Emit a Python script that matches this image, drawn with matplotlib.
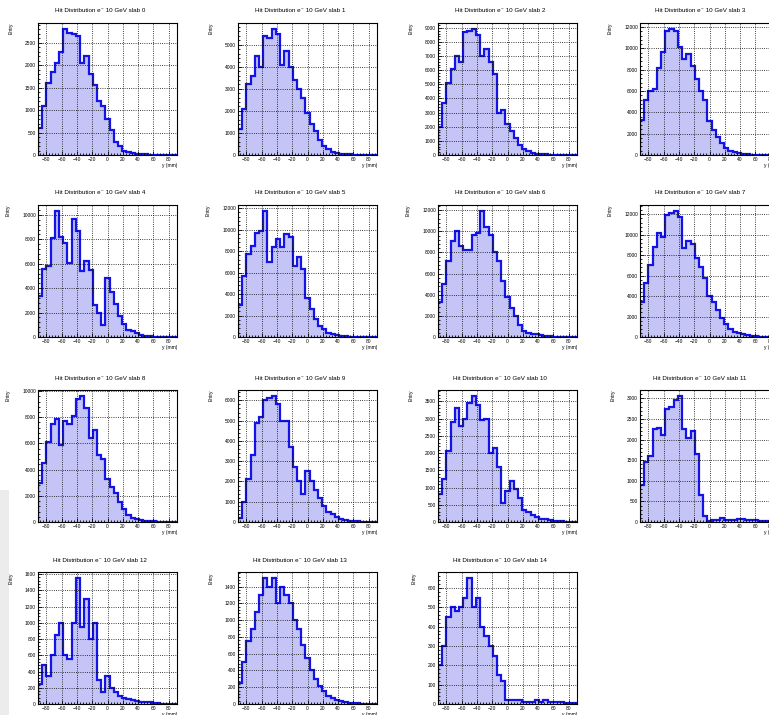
import numpy as np
import matplotlib.pyplot as plt
from matplotlib.patches import Rectangle
from matplotlib.ticker import MultipleLocator, AutoMinorLocator

plt.rcParams['font.family'] = ['Liberation Sans', 'DejaVu Sans']

# 33 bins of 5.5 mm (pad pitch), centred on the pad grid
edges = -90.75 + 5.5 * np.arange(34)

slab0 = [600, 1100, 1600, 1850, 2050, 2300, 2800, 2720, 2700, 2650, 2050, 2200, 1800,
         1550, 1200, 1100, 800, 550, 300, 200, 100, 60, 40, 30, 20, 15, 10, 8, 6, 5, 4, 3, 3]
slab1 = [1200, 2100, 3200, 3600, 4500, 4000, 5400, 5300, 5700, 5500, 4100, 4700, 4000,
         3400, 3000, 2600, 1900, 1400, 1100, 700, 400, 250, 150, 100, 60, 40, 30, 20, 15, 10, 8, 5, 5]
slab2 = [2000, 3700, 5100, 6100, 7000, 6600, 8700, 8800, 8900, 8500, 7000, 7500, 6600,
         5700, 3000, 3200, 2200, 1700, 1200, 700, 400, 250, 150, 100, 60, 40, 30, 20, 15, 10, 5, 5, 5]
slab3 = [3300, 5200, 6000, 6200, 8200, 9700, 11600, 11800, 11600, 10100, 9000, 9500, 8400,
         7100, 6000, 5200, 3200, 2300, 1700, 1100, 700, 400, 250, 150, 100, 60, 40, 30, 20, 15, 10, 5, 5]
slab4 = [3400, 5600, 5800, 8100, 10300, 8200, 7700, 6100, 9700, 8700, 5400, 6200, 5500,
         2600, 2000, 1000, 4800, 3700, 2700, 1700, 1100, 600, 500, 300, 200, 100, 60, 40, 30, 20, 15, 10, 5]
slab5 = [3000, 5700, 7700, 8500, 9700, 9900, 11700, 7000, 8400, 9100, 8400, 9600, 9300,
         6600, 7400, 6300, 3600, 2600, 1700, 1000, 700, 400, 300, 200, 100, 60, 40, 30, 20, 15, 10, 5, 5]
slab6 = [3300, 5000, 7200, 9100, 10000, 8600, 8200, 8200, 9700, 9800, 11900, 10400, 9700,
         8000, 7200, 5300, 3800, 2700, 2000, 1100, 600, 400, 300, 300, 200, 100, 60, 40, 30, 20, 15, 10, 5]
slab7 = [3400, 5300, 7000, 8800, 10200, 9800, 11900, 12100, 12300, 11700, 8700, 9400, 9100,
         7700, 6800, 5800, 4000, 3400, 2600, 1900, 1300, 800, 500, 400, 300, 200, 100, 60, 40, 30, 20, 10, 5]
slab8 = [3000, 4500, 6100, 7500, 7900, 5900, 7700, 7500, 8100, 9400, 9600, 8700, 6400,
         7000, 5100, 4800, 3300, 2700, 2200, 1500, 1000, 500, 300, 200, 150, 100, 60, 40, 30, 20, 15, 10, 5]
slab9 = [200, 1000, 2100, 3300, 4900, 5200, 6000, 6100, 6200, 5800, 5000, 5000, 3700,
         2700, 2000, 1400, 2500, 2000, 1600, 1200, 800, 500, 400, 250, 150, 100, 60, 40, 30, 20, 15, 10, 5]
slab10 = [800, 1250, 2050, 2900, 3300, 2800, 3000, 3450, 3650, 3400, 2950, 3000, 2000,
          2150, 1600, 550, 900, 1200, 950, 700, 350, 300, 200, 150, 100, 80, 50, 30, 20, 15, 10, 5, 5]
slab11 = [900, 1450, 1600, 2250, 2280, 2100, 2750, 2800, 2950, 3050, 2250, 2050, 2200,
          1650, 650, 150, 30, 50, 60, 100, 60, 60, 50, 80, 70, 60, 60, 40, 30, 20, 20, 10, 10]
slab12 = [250, 480, 350, 600, 850, 1000, 600, 550, 1000, 1550, 950, 1300, 800,
          1000, 300, 150, 350, 200, 150, 100, 80, 60, 50, 40, 30, 20, 20, 10, 10, 5, 5, 5, 5]
slab13 = [250, 500, 750, 900, 1100, 1300, 1500, 1400, 1500, 1200, 1400, 1300, 1200,
          1000, 900, 700, 550, 400, 300, 220, 150, 100, 70, 50, 30, 20, 15, 10, 10, 5, 5, 5, 5]
slab14 = [200, 300, 450, 500, 480, 500, 550, 650, 500, 550, 400, 350, 300,
          250, 150, 120, 20, 20, 20, 20, 10, 10, 10, 20, 10, 20, 10, 10, 10, 10, 5, 5, 5]

slabs = [slab0, slab1, slab2, slab3, slab4, slab5, slab6, slab7,
         slab8, slab9, slab10, slab11, slab12, slab13, slab14]
y_major = [500, 1000, 1000, 2000, 2000, 2000, 2000, 2000,
           2000, 1000, 500, 500, 200, 200, 100]

W, H = 769, 715
fig = plt.figure(figsize=(W / 100, H / 100), dpi=100)

# grey strip of the window behind the canvas, lower left
fig.patches.append(Rectangle((0, 0), 9 / W, 225 / H, transform=fig.transFigure,
                             facecolor='#ececec', edgecolor='none', zorder=-1))

col_x = [38, 238, 438, 640]
row_y = [23, 205, 390, 572]
pw, ph = 139, 132

fill_col = '#c4c4f6'
line_col = '#1414e6'

for i, counts in enumerate(slabs):
    r, c = divmod(i, 4)
    ax = fig.add_axes([col_x[c] / W, 1 - (row_y[r] + ph) / H, pw / W, ph / H])
    ax.stairs(counts, edges, fill=True, color=fill_col, lw=0)
    ax.stairs(counts, edges, color=line_col, lw=1.6)
    ax.set_xlim(edges[0], edges[-1])
    ax.set_ylim(0, max(counts) * 1.05)

    ax.xaxis.set_major_locator(MultipleLocator(20))
    ax.xaxis.set_minor_locator(AutoMinorLocator(5))
    ax.yaxis.set_major_locator(MultipleLocator(y_major[i]))
    ax.yaxis.set_minor_locator(AutoMinorLocator(5))
    ax.tick_params(which='both', direction='in', labelsize=3.5, pad=1.5, width=0.6)
    ax.tick_params(which='major', length=3)
    ax.tick_params(which='minor', length=1.5)
    ax.grid(True, which='major', ls=':', color='black', lw=0.6)
    ax.set_axisbelow(False)
    for s in ax.spines.values():
        s.set_linewidth(0.8)

    ax.set_ylabel('Entry', loc='top', fontsize=3.5, labelpad=8)
    ax.set_xlabel('y (mm)', loc='right', fontsize=3.5, labelpad=1)
    fig.text((100 + 200 * c) / W, 1 - (row_y[r] - 12) / H,
             'Hit Distribution e\u207b 10 GeV slab %d' % i,
             ha='center', va='center', fontsize=4.5)

fig.savefig('out.png', dpi=100)
